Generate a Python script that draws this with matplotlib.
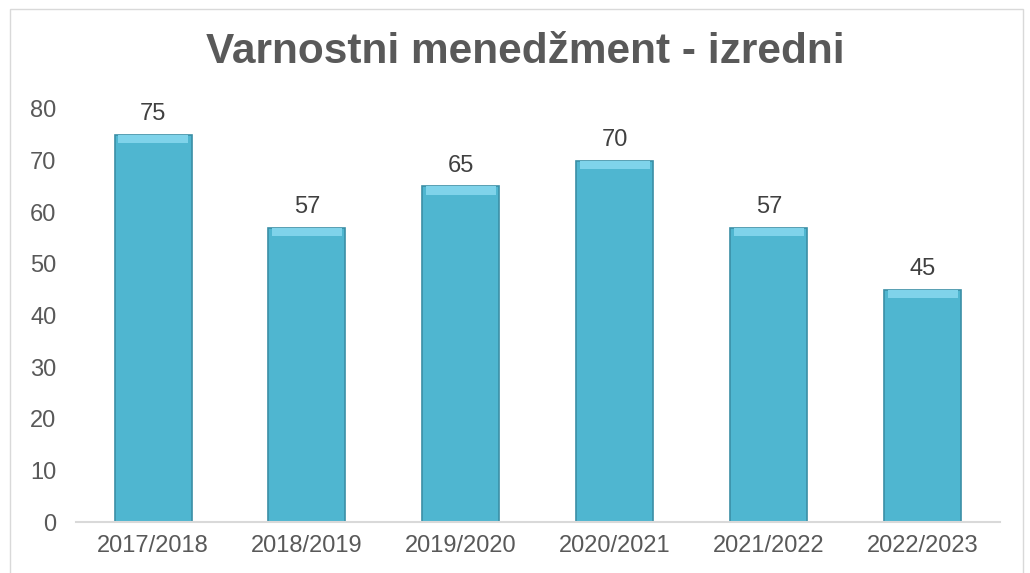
import matplotlib.pyplot as plt
from matplotlib.patches import Rectangle

# data
years = ['2017/2018', '2018/2019', '2019/2020', '2020/2021', '2021/2022', '2022/2023']
values = [75, 57, 65, 70, 57, 45]

plt.rcParams['font.family'] = ['Liberation Sans', 'DejaVu Sans']

fig = plt.figure(figsize=(10.3, 5.73), dpi=100)
ax = fig.add_axes([0.0738, 0.089, 0.897, 0.721])

x = range(len(years))
ax.bar(x, values, width=0.5, color='#4fb6d0', edgecolor='#3b8fa6', linewidth=1.2, zorder=2)
# lighter bevel strip on top of each bar
ax.bar(x, [1.6] * len(values), bottom=[v - 1.6 for v in values], width=0.46,
       color='#7fd3ea', linewidth=0, zorder=3)

for i, v in enumerate(values):
    ax.text(i, v + 1.8, str(v), ha='center', va='bottom', fontsize=17, color='#404040')

ax.set_xlim(-0.5, len(years) - 0.5)
ax.set_ylim(0, 80)
ax.set_yticks(range(0, 81, 10))
ax.set_xticks(list(x))
ax.set_xticklabels(years)
ax.tick_params(axis='both', length=0, labelsize=17, colors='#595959')
ax.tick_params(axis='y', pad=14)
ax.tick_params(axis='x', pad=9)

for s in ['top', 'right', 'left']:
    ax.spines[s].set_visible(False)
ax.spines['bottom'].set_color('#d9d9d9')
ax.spines['bottom'].set_linewidth(1.5)

fig.text(0.51, 0.909, 'Varnostni menedžment - izredni', ha='center', va='center',
         fontsize=30.5, fontweight='bold', color='#595959')

fig.patches.append(Rectangle((0.01, -0.01), 0.983, 0.995, transform=fig.transFigure,
                             fill=False, edgecolor='#d9d9d9', linewidth=1))

plt.savefig('out.png', dpi=100)
